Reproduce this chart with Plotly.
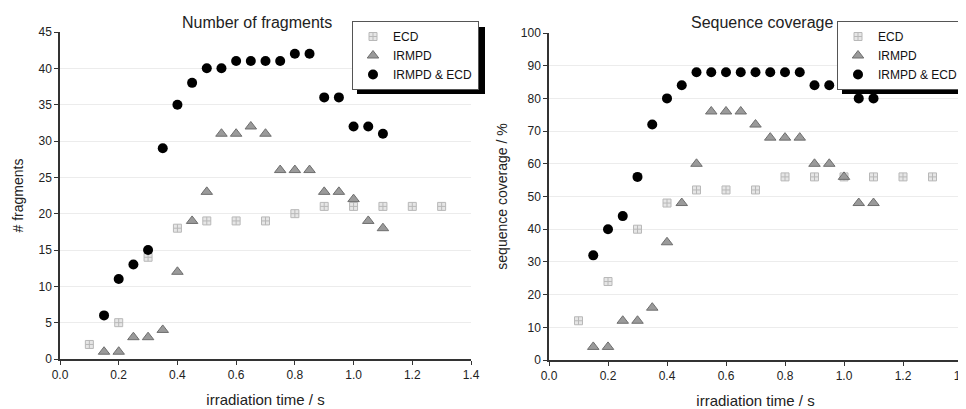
import plotly.graph_objects as go

# ---- data ----
ecd_t = [0.1, 0.2, 0.3, 0.4, 0.5, 0.6, 0.7, 0.8, 0.9, 1.0, 1.1, 1.2, 1.3]
ecd_frag = [2, 5, 14, 18, 19, 19, 19, 20, 21, 21, 21, 21, 21]
ecd_cov = [12, 24, 40, 48, 52, 52, 52, 56, 56, 56, 56, 56, 56]

ir_t = [0.15, 0.2, 0.25, 0.3, 0.35, 0.4, 0.45, 0.5, 0.55, 0.6, 0.65, 0.7,
        0.75, 0.8, 0.85, 0.9, 0.95, 1.0, 1.05, 1.1]
ir_frag = [1, 1, 3, 3, 4, 12, 19, 23, 31, 31, 32, 31, 26, 26, 26, 23, 23, 22, 19, 18]
ir_cov = [4, 4, 12, 12, 16, 36, 48, 60, 76, 76, 76, 72, 68, 68, 68, 60, 60, 56, 48, 48]

both_t = ir_t
both_frag = [6, 11, 13, 15, 29, 35, 38, 40, 40, 41, 41, 41, 41, 42, 42, 36, 36, 32, 32, 31]
both_cov = [32, 40, 44, 56, 72, 80, 84, 88, 88, 88, 88, 88, 88, 88, 88, 84, 84, 84, 80, 80]

series_names = ["ECD", "IRMPD", "IRMPD & ECD"]
x_ticks = [0.0, 0.2, 0.4, 0.6, 0.8, 1.0, 1.2, 1.4]

FONT = "Liberation Sans, Arial, sans-serif"
# the page body has an 8px default margin; lay out in window pixels minus it
OFF = 8
W, H = 966, 409 - OFF

ecd_marker = dict(symbol="square-cross", size=8, color="#e6e6e6",
                  line=dict(color="#b8b8b8", width=1))
ir_marker = dict(symbol="triangle-up", size=10, color="#9a9a9a",
                 line=dict(color="#6e6e6e", width=1))
both_marker = dict(symbol="circle", size=10, color="#000000",
                   line=dict(color="#000000", width=0))

fig = go.Figure()

panels = [
    ("x", "y", "legend", ecd_frag, ir_frag, both_frag),
    ("x2", "y2", "legend2", ecd_cov, ir_cov, both_cov),
]
for xa, ya, lg, e, i, b in panels:
    fig.add_trace(go.Scatter(x=ecd_t, y=e, mode="markers", name=series_names[0],
                             marker=ecd_marker, xaxis=xa, yaxis=ya, legend=lg))
    fig.add_trace(go.Scatter(x=ir_t, y=i, mode="markers", name=series_names[1],
                             marker=ir_marker, xaxis=xa, yaxis=ya, legend=lg))
    fig.add_trace(go.Scatter(x=both_t, y=b, mode="markers", name=series_names[2],
                             marker=both_marker, xaxis=xa, yaxis=ya, legend=lg))


def px(v):
    return (v - OFF) / W


def py(v):
    return 1 - (v - OFF) / H


axis_common = dict(showline=True, linecolor="#333333", linewidth=1.5,
                   ticks="outside", ticklen=4, tickcolor="#333333", tickwidth=1.2,
                   tickfont=dict(family=FONT, size=12, color="#222222"),
                   zeroline=False, mirror=False, fixedrange=True, automargin=False)

legend_common = dict(yanchor="top", xanchor="right",
                     bgcolor="white", bordercolor="#555555", borderwidth=1,
                     font=dict(family=FONT, size=12, color="#111111"),
                     tracegroupgap=0, itemwidth=30)

fig.update_layout(
    width=W, height=H,
    margin=dict(l=0, r=0, t=0, b=0, autoexpand=False),
    paper_bgcolor="white", plot_bgcolor="white",
    font=dict(family=FONT, color="#222222"),
    xaxis=dict(domain=[px(60), px(471)], range=[0, 1.4], tickvals=x_ticks,
               tickformat=".1f", showgrid=False, anchor="y",
               title=dict(text="irradiation time / s", font=dict(size=15), standoff=13),
               **axis_common),
    yaxis=dict(domain=[py(359), py(32)], range=[0, 45], dtick=5,
               showgrid=True, gridcolor="#ececec", gridwidth=1, anchor="x",
               title=dict(text="# fragments", font=dict(size=14), standoff=12),
               **axis_common),
    xaxis2=dict(domain=[px(549), px(962)], range=[0, 1.4], tickvals=x_ticks,
                tickformat=".1f", showgrid=False, anchor="y2",
                title=dict(text="irradiation time / s", font=dict(size=15), standoff=13),
                **axis_common),
    yaxis2=dict(domain=[py(360), py(33)], range=[0, 100], dtick=10,
                showgrid=True, gridcolor="#ececec", gridwidth=1, anchor="x2",
                title=dict(text="sequence coverage / %", font=dict(size=14), standoff=10),
                **axis_common),
    legend=dict(x=px(479), y=py(21), **legend_common),
    legend2=dict(x=px(964), y=py(21), **legend_common),
    showlegend=True,
)

# legend drop shadows
for x0, x1 in [(357, 485), (842, 970)]:
    fig.add_shape(type="rect", xref="paper", yref="paper",
                  x0=px(x0), x1=px(x1), y0=py(94), y1=py(27),
                  fillcolor="black", line=dict(width=0), layer="above")

# panel titles
fig.add_annotation(text="Number of fragments", x=px(257), y=py(22), xref="paper",
                   yref="paper", xanchor="center", yanchor="middle", showarrow=False,
                   font=dict(size=16, family=FONT))
fig.add_annotation(text="Sequence coverage", x=px(762), y=py(22), xref="paper",
                   yref="paper", xanchor="center", yanchor="middle", showarrow=False,
                   font=dict(size=16, family=FONT))

fig.write_html("out.html")
